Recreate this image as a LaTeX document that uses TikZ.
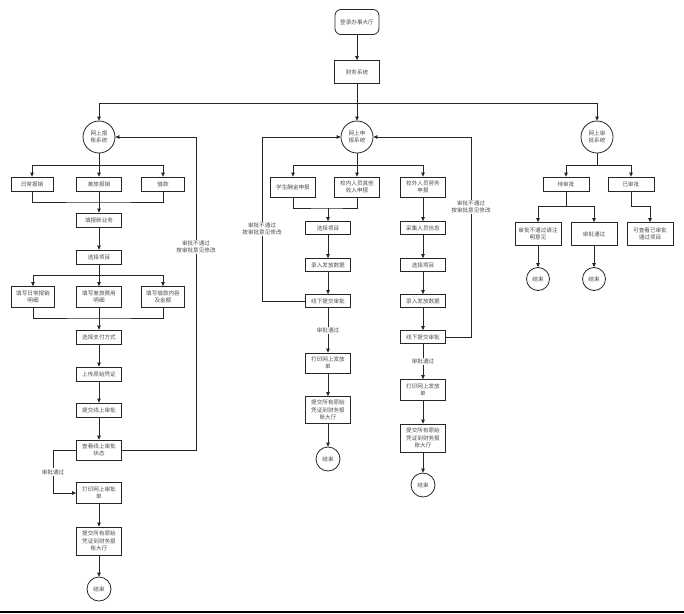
\documentclass[tikz,border=0pt]{standalone}
\usepackage{fontspec}
\newfontfamily\cjk{Noto Sans CJK SC}
\usetikzlibrary{arrows.meta}
\begin{document}
\begin{tikzpicture}[x=1pt,y=-1pt,
  every node/.style={font=\cjk\fontsize{5.6}{7.6}\selectfont,text=black!70},
  box/.style={draw=black!85,line width=0.8pt,minimum width=45pt,minimum height=14pt,inner sep=1pt,align=center},
  tall/.style={box,minimum height=21pt},
  taller/.style={box,minimum height=28pt},
  sys/.style={circle,draw=black!85,line width=0.8pt,minimum size=32pt,inner sep=0pt,align=center},
  stop/.style={circle,draw=black!85,line width=0.8pt,minimum size=24pt,inner sep=0pt},
  arr/.style={draw=black!85,line width=0.8pt,-{Triangle[length=4pt,width=3.6pt]}},
  ln/.style={draw=black!85,line width=0.8pt},
  lbl/.style={fill=white,inner sep=1pt,align=center}]
		\useasboundingbox (0,0) rectangle (684,613);
		% top
		\node[box,rounded corners=6pt,minimum width=44pt,minimum height=25pt] (login) at (357,22) {登录办事大厅};
		\node[box,minimum height=23pt] (fin) at (357,72) {财务系统};
		\node[sys] (sysA) at (99,137) {网上报\\账系统};
		\node[sys] (sysB) at (357,137) {网上申\\报系统};
		\node[sys] (sysC) at (597,137) {网上审\\批系统};
		\coordinate (top) at (357,103);
		\draw[arr] (login)--(fin);
		\draw[arr] (fin)--(sysB);
		\draw[arr] (top) -| (sysA);
		\draw[arr] (top) -| (sysC);
		% left column
		\node[box,minimum width=42pt] (daily) at (32,184) {日常报销};
		\node[box] (travel) at (99,184) {差旅报销};
		\node[box,minimum width=43pt] (loan) at (163,184) {借款};
		\node[box] (newbiz) at (99,220) {填报新业务};
		\node[box] (projA) at (99,257) {选择项目};
		\node[tall,minimum width=43pt] (fillD) at (33,297) {填写日常报销\\明细};
		\node[tall] (fillT) at (99,297) {填写差旅费用\\明细};
		\node[tall,minimum width=43pt] (fillL) at (163,297) {填写借款内容\\及金额};
		\node[box] (pay) at (99,337) {选择支付方式};
		\node[box] (upload) at (99,374) {上传原始凭证};
		\node[box] (submit) at (99,410) {提交线上审批};
		\node[box,minimum height=20pt] (check) at (99,450) {查看线上审批\\状态};
		\node[tall] (printA) at (99,493) {打印网上审批\\单};
		\node[taller] (handA) at (99,541) {提交所有原始\\凭证到财务报\\账大厅};
		\node[stop] (endA) at (99,589) {结束};
		\coordinate (sa) at (99,165);
		\coordinate (ma) at (99,202);
		\coordinate (sb) at (99,275);
		\coordinate (mb) at (99,318);
		\coordinate (backA) at (196,450);
		\coordinate (okA) at (53,450);
		\draw[arr] (sysA)--(travel);
		\draw[arr] (sa) -| (daily);
		\draw[arr] (sa) -| (loan);
		\draw[ln] (daily) |- (ma) -| (loan);
		\draw[arr] (travel)--(newbiz);
		\draw[arr] (newbiz)--(projA);
		\draw[arr] (projA)--(fillT);
		\draw[arr] (sb) -| (fillD);
		\draw[arr] (sb) -| (fillL);
		\draw[ln] (fillD) |- (mb) -| (fillL);
		\draw[arr] (fillT)--(pay);
		\draw[arr] (pay)--(upload);
		\draw[arr] (upload)--(submit);
		\draw[arr] (submit)--(check);
		\draw[arr] (check)--(backA) |- (sysA);
		\draw[arr] (check)--(okA) |- (printA);
		\draw[arr] (printA)--(handA);
		\draw[arr] (handA)--(endA);
		\node[lbl] (noA) at (196,247) {审批不通过\\按审批意见修改};
		\node[lbl] (passA) at (53,472) {审批通过};
		% middle column
		\node[tall,minimum height=20pt] (salary) at (293,187) {学生酬金申报};
		\node[tall,minimum height=20pt] (inner) at (357,187) {校内人员其他\\收入申报};
		\node[tall,minimum height=20pt] (outer) at (423,187) {校外人员劳务\\申报};
		\node[box,minimum height=13pt] (projB) at (328,228) {选择项目};
		\node[box,minimum height=13pt] (inputB) at (328,265) {录入发放数据};
		\node[box,minimum height=13pt] (offB) at (328,301) {线下提交审批};
		\node[box,minimum height=20pt] (printB) at (328,363) {打印网上发放\\单};
		\node[taller,minimum height=27pt] (handB) at (328,410) {提交所有原始\\凭证到财务报\\账大厅};
		\node[stop] (endB) at (328,459) {结束};
		\node[box,minimum height=13pt] (collect) at (423,228) {采集人员信息};
		\node[box,minimum height=13pt] (projC) at (423,265) {选择项目};
		\node[box,minimum height=13pt] (inputC) at (423,301) {录入发放数据};
		\node[box,minimum height=13pt] (offC) at (423,337) {线下提交审批};
		\node[tall] (printC) at (423,390) {打印网上发放\\单};
		\node[taller] (handC) at (423,438) {提交所有原始\\凭证到财务报\\账大厅};
		\node[stop] (endC) at (423,485) {结束};
		\coordinate (sm) at (357,165);
		\coordinate (mm) at (328,208);
		\coordinate (backB) at (262,301);
		\coordinate (backC) at (471,337);
		\draw[arr] (sysB)--(inner);
		\draw[arr] (sm) -| (salary);
		\draw[arr] (sm) -| (outer);
		\draw[ln] (salary) |- (mm) -| (inner);
		\draw[arr] (mm)--(projB);
		\draw[arr] (projB)--(inputB);
		\draw[arr] (inputB)--(offB);
		\draw[arr] (offB)--node[lbl] (passB) {审批通过} (printB);
		\draw[arr] (printB)--(handB);
		\draw[arr] (handB)--(endB);
		\draw[arr] (offB)--(backB) |- (sysB);
		\draw[arr] (outer)--(collect);
		\draw[arr] (collect)--(projC);
		\draw[arr] (projC)--(inputC);
		\draw[arr] (inputC)--(offC);
		\draw[arr] (offC)--node[lbl] (passC) {审批通过} (printC);
		\draw[arr] (printC)--(handC);
		\draw[arr] (handC)--(endC);
		\draw[arr] (offC)--(backC) |- (sysB);
		\node[lbl] (noB) at (262,229) {审批不通过\\按审批意见修改};
		\node[lbl] (noC) at (471,207) {审批不通过\\按审批意见修改};
		% right column
		\node[box,minimum width=46pt] (wait) at (566,184) {待审批};
		\node[box,minimum width=46pt] (done) at (631,184) {已审批};
		\node[box,minimum width=46pt,minimum height=23pt] (reject) at (538,234) {审批不通过请注\\明意见};
		\node[box,minimum width=46pt,minimum height=23pt] (pass) at (594,234) {审批通过};
		\node[box,minimum width=46pt,minimum height=23pt] (view) at (650,234) {可查看已审批\\通过项目};
		\node[stop,minimum size=23pt] (endR) at (538,279) {结束};
		\node[stop,minimum size=23pt] (endS) at (594,279) {结束};
		\coordinate (sr) at (597,165);
		\coordinate (sw) at (566,206);
		\coordinate (sd) at (631,206);
		\draw[ln] (sysC)--(sr);
		\draw[arr] (sr) -| (wait);
		\draw[arr] (sr) -| (done);
		\draw[ln] (wait)--(sw);
		\draw[arr] (sw) -| (reject);
		\draw[arr] (sw) -| (pass);
		\draw[arr] (done)--(sd) -| (view);
		\draw[arr] (reject)--(endR);
		\draw[arr] (pass)--(endS);
		% page rule
		\draw[line width=1.6pt] (0,611.8)--(684,611.8);
\end{tikzpicture}
\end{document}
